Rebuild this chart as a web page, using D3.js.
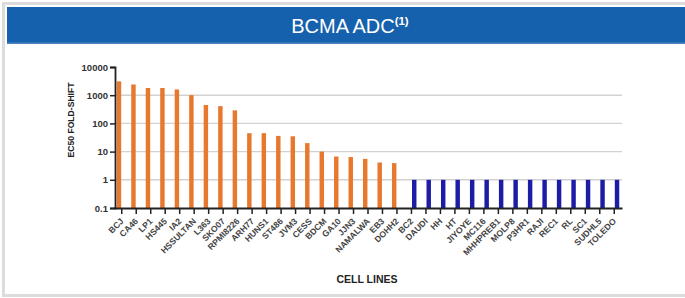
<!DOCTYPE html>
<html>
<head>
<meta charset="utf-8">
<script src="https://cdn.jsdelivr.net/npm/d3@7"></script>
<style>
  body { margin: 0; background: #fff; font-family: "Liberation Sans", Arial, sans-serif; }
  svg { display: block; }
  .tick-label { font-size: 9.5px; font-weight: bold; fill: #333; }
  .cat-label { font-size: 8.6px; font-weight: bold; fill: #444; }
  .axis-title { font-size: 8.6px; font-weight: bold; fill: #222; }
</style>
</head>
<body>
<div id="chart"></div>
<script>
const CELL_LINES = [
  "BCJ", "CA46", "LP1", "HS445", "IA2", "HSSULTAN", "L363", "SKO07", "RPMI8226", "ARH77",
  "HUNS1", "ST486", "JVM3", "CESS", "BDCM", "GA10", "JJN3", "NAMALWA", "EB3", "DOHH2",
  "BC2", "DAUDI", "HH", "HT", "JIYOYE", "MC116", "MHHPREB1", "MOLP8", "P3HR1", "RAJI",
  "REC1", "RL", "SC1", "SUDHL5", "TOLEDO"
];
const FOLD_SHIFT = [
  3100, 2400, 1800, 1800, 1600, 1000, 450, 410, 290, 45,
  45, 36, 35, 20, 10, 6.7, 6.4, 5.5, 4.1, 3.9,
  1, 1, 1, 1, 1, 1, 1, 1, 1, 1,
  1, 1, 1, 1, 1
];
// which column each cell line sits in: shifted (orange) or flat (blue)
const GROUP = CELL_LINES.map((d, i) => i < 20 ? "shifted" : "flat");
const GROUPS = ["shifted", "flat"];
const Y_TICKS = [0.1, 1, 10, 100, 1000, 10000];
const GRID_TICKS = [1, 10, 100, 1000];
const TITLE = "BCMA ADC";
const TITLE_SUP = "(1)";
const Y_TITLE = "EC50 FOLD-SHIFT";
const X_TITLE = "CELL LINES";

const COLOR = d3.scaleOrdinal().domain(GROUPS).range(["#e9782f", "#1c1ca6"]);

const W = 685, H = 298;
const svg = d3.select("#chart").append("svg").attr("width", W).attr("height", H);

// card frame
svg.append("rect").attr("x", 3.5).attr("y", 3.5).attr("width", W).attr("height", H - 6)
  .attr("fill", "#fff").attr("stroke", "#dcdcdc").attr("stroke-width", 3);

// title bar
svg.append("rect").attr("x", 7).attr("y", 7).attr("width", W - 7).attr("height", 37)
  .attr("fill", "#1661ad");
svg.append("rect").attr("x", 7).attr("y", 42.5).attr("width", W - 7).attr("height", 1.5)
  .attr("fill", "#4f86c0");
const title = svg.append("text").attr("x", 350).attr("y", 33)
  .attr("text-anchor", "middle").attr("fill", "#fff")
  .style("font-size", "20px");
title.append("tspan").text(TITLE);
title.append("tspan").attr("dy", -8).style("font-size", "11.5px").style("font-weight", "bold").text(TITLE_SUP);

// scales
const x = d3.scaleBand().domain(CELL_LINES).range([114, 622]).paddingInner(0.31).paddingOuter(0.19);
const xSub = d3.scaleBand().domain(GROUPS).range([0, x.bandwidth()]).paddingInner(0.2);
const y = d3.scaleLog().domain([0.1, 10000]).range([208, 67]);
const xAxisY = 208;

// grid
svg.append("g").selectAll("line").data(GRID_TICKS).join("line")
  .attr("x1", 115).attr("x2", 622)
  .attr("y1", d => y(d)).attr("y2", d => y(d))
  .attr("stroke", "#d2d2d2").attr("stroke-width", 1.4);

// bars
svg.append("g").selectAll("rect").data(CELL_LINES).join("rect")
  .attr("x", (d, i) => x(d) + xSub(GROUP[i]))
  .attr("width", xSub.bandwidth())
  .attr("y", (d, i) => y(FOLD_SHIFT[i]))
  .attr("height", (d, i) => xAxisY - y(FOLD_SHIFT[i]))
  .attr("fill", (d, i) => COLOR(GROUP[i]));

// y axis
const yAxis = svg.append("g").attr("transform", "translate(115,0)")
  .call(d3.axisLeft(y).tickValues(Y_TICKS).tickSize(5).tickPadding(2)
    .tickFormat(d => String(d)));
yAxis.select(".domain").attr("stroke", "#222").attr("stroke-width", 1.8);
yAxis.selectAll(".tick line").attr("stroke", "#222").attr("stroke-width", 1.5);
yAxis.selectAll(".tick text").attr("class", "tick-label").attr("font-family", null).attr("font-size", null);

// x axis
const xAxis = svg.append("g").attr("transform", `translate(0,${xAxisY})`)
  .call(d3.axisBottom(x).tickSize(6).tickSizeOuter(0));
xAxis.select(".domain").attr("stroke", "#222").attr("stroke-width", 1.8);
xAxis.selectAll(".tick line").attr("stroke", "#222").attr("stroke-width", 1.5);
xAxis.selectAll(".tick text")
  .attr("class", "cat-label").attr("font-family", null).attr("font-size", null)
  .attr("text-anchor", "end")
  .attr("y", 0).attr("dy", "0.35em")
  .attr("transform", "translate(1,11) rotate(-45)")
  .attr("x", -1);

// axis titles
svg.append("text").attr("class", "axis-title")
  .attr("transform", "translate(74,120) rotate(-90)")
  .attr("text-anchor", "middle").text(Y_TITLE);
svg.append("text").attr("class", "axis-title")
  .attr("x", 367).attr("y", 283).attr("text-anchor", "middle")
  .style("font-size", "10.5px").text(X_TITLE);
</script>
</body>
</html>
